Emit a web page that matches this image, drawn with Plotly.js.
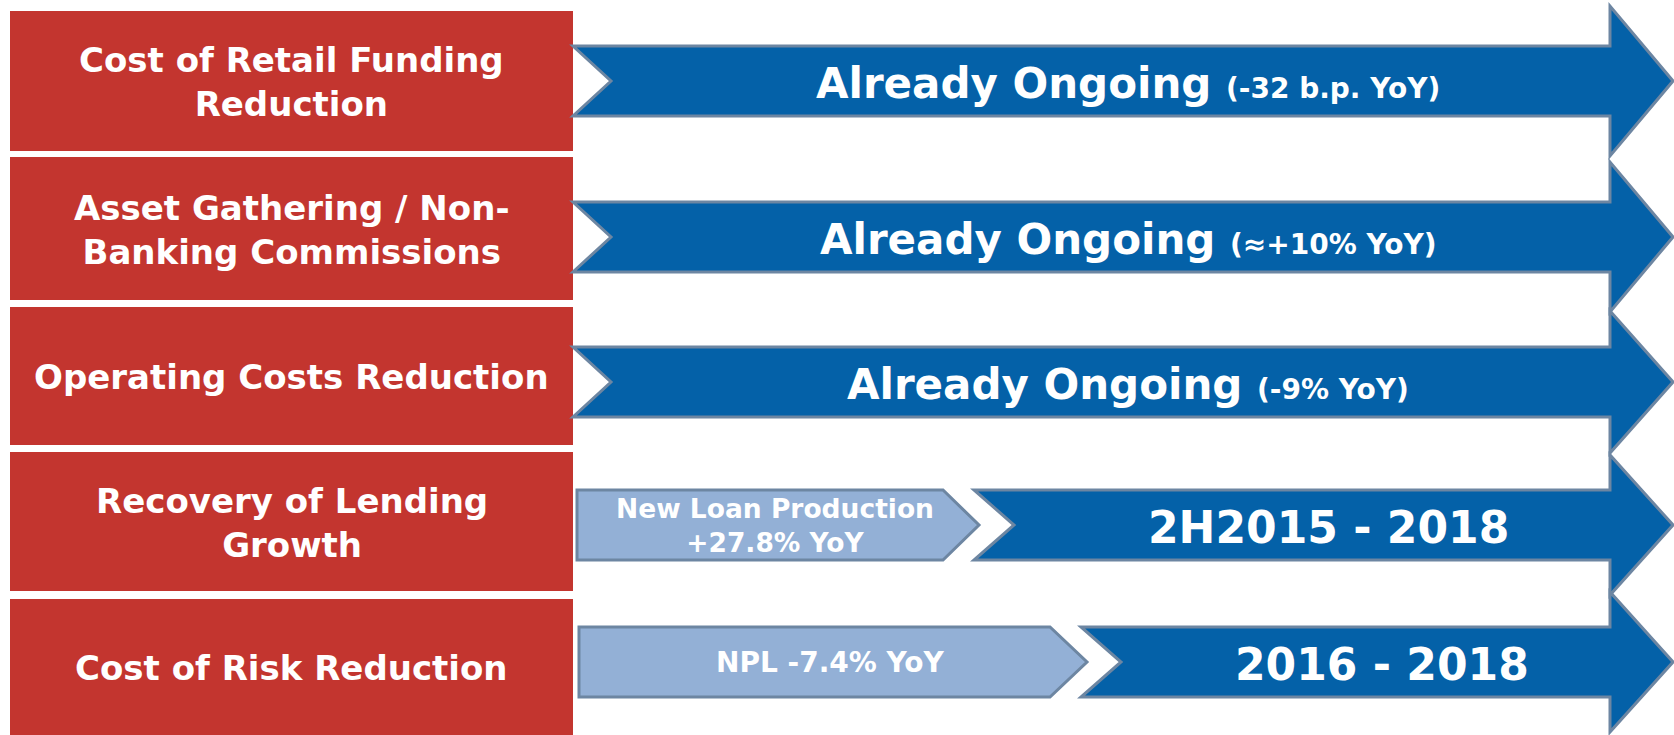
<!DOCTYPE html>
<html>
<head>
<meta charset="utf-8">
<script src="https://cdn.plot.ly/plotly-3.0.1.min.js"></script>
<style>html,body{margin:0;padding:0;background:#fff;}#chart{width:1674px;height:735px;}</style>
</head>
<body>
<div id="chart"></div>
<script>
// ---- content ----
const drivers = [
  "Cost of Retail Funding<br>Reduction",
  "Asset Gathering / Non-<br>Banking Commissions",
  "Operating Costs Reduction",
  "Recovery of Lending<br>Growth",
  "Cost of Risk Reduction"
];
const phaseLabels = ["Already Ongoing", "Already Ongoing", "Already Ongoing", "2H2015 - 2018", "2016 - 2018"];
const yoyNotes = ["(-32 b.p. YoY)", "(\u2248+10% YoY)", "(-9% YoY)", "", ""];
const earlyResults = ["", "", "", "New Loan Production<br>+27.8% YoY", "NPL -7.4% YoY"];

// ---- geometry (pixels in a 1674 x 735 canvas) ----
const boxTop    = [11, 157, 307, 452, 599];
const boxBottom = [151, 300, 445, 591, 735];
const boxLeft = 10, boxRight = 573;
const arrowCenter = [81, 237, 382, 525, 662];
const bodyHalf = 35;
const headHalf = [75, 75, 71, 70, 70];
const darkStart = [573, 573, 573, 974, 1081];
const notchDepth = [38, 38, 38, 40, 40];
const headBase = 1610, headTip = 1673;
const lightStart = [null, null, null, 577, 579];
const lightBodyEnd = [null, null, null, 943, 1050];
const lightTip = [null, null, null, 979, 1087];
const phaseFontSize = [42, 42, 42, 44, 44];
const lightFontSize = [null, null, null, 26.5, 28];

// ---- styles ----
const RED = "#C3352F", BLUE = "#0461A8", EDGE = "#6D86A2", LIGHT = "#93B0D6";
const FONT = "DejaVu Sans";

const shapes = [];
const annotations = [];

drivers.forEach((d, i) => {
  shapes.push({type: "rect", xref: "x", yref: "y", x0: boxLeft, x1: boxRight,
    y0: boxTop[i], y1: boxBottom[i], fillcolor: RED, line: {width: 0}, layer: "below"});
  annotations.push({x: (boxLeft + boxRight) / 2, y: (boxTop[i] + boxBottom[i]) / 2 + 1,
    xref: "x", yref: "y", text: d, showarrow: false, xanchor: "center", yanchor: "middle",
    font: {family: FONT, size: 34, color: "#fff", weight: 700}});
});

drivers.forEach((d, i) => {
  const c = arrowCenter[i], h = bodyHalf, H = headHalf[i], x0 = darkStart[i];
  const p = `M ${x0},${c - h} L ${headBase},${c - h} L ${headBase},${c - H} L ${headTip},${c} ` +
            `L ${headBase},${c + H} L ${headBase},${c + h} L ${x0},${c + h} L ${x0 + notchDepth[i]},${c} Z`;
  shapes.push({type: "path", xref: "x", yref: "y", path: p, fillcolor: BLUE,
    line: {color: EDGE, width: 3}});
  let txt = phaseLabels[i];
  if (yoyNotes[i]) txt += " <span style='font-size:28px'>" + yoyNotes[i] + "</span>";
  annotations.push({x: (x0 + headTip) / 2 + 5, y: c + 2, xref: "x", yref: "y", text: txt,
    showarrow: false, xanchor: "center", yanchor: "middle",
    font: {family: FONT, size: phaseFontSize[i], color: "#fff", weight: 700}});

  if (earlyResults[i]) {
    const a = lightStart[i], b = lightBodyEnd[i], t = lightTip[i];
    const lp = `M ${a},${c - h} L ${b},${c - h} L ${t},${c} L ${b},${c + h} L ${a},${c + h} Z`;
    shapes.push({type: "path", xref: "x", yref: "y", path: lp, fillcolor: LIGHT,
      line: {color: EDGE, width: 3}});
    annotations.push({x: (a + t) / 2 - 3, y: c, xref: "x", yref: "y", text: earlyResults[i],
      showarrow: false, xanchor: "center", yanchor: "middle",
      font: {family: FONT, size: lightFontSize[i], color: "#fff", weight: 700}});
  }
});

const layout = {
  width: 1674, height: 735,
  margin: {l: 0, r: 0, t: 0, b: 0},
  paper_bgcolor: "#ffffff", plot_bgcolor: "#ffffff",
  xaxis: {range: [0, 1674], visible: false, fixedrange: true},
  yaxis: {range: [735, 0], visible: false, fixedrange: true},
  showlegend: false,
  shapes: shapes,
  annotations: annotations
};

Plotly.newPlot("chart", [], layout, {displayModeBar: false, staticPlot: true});
</script>
</body>
</html>
